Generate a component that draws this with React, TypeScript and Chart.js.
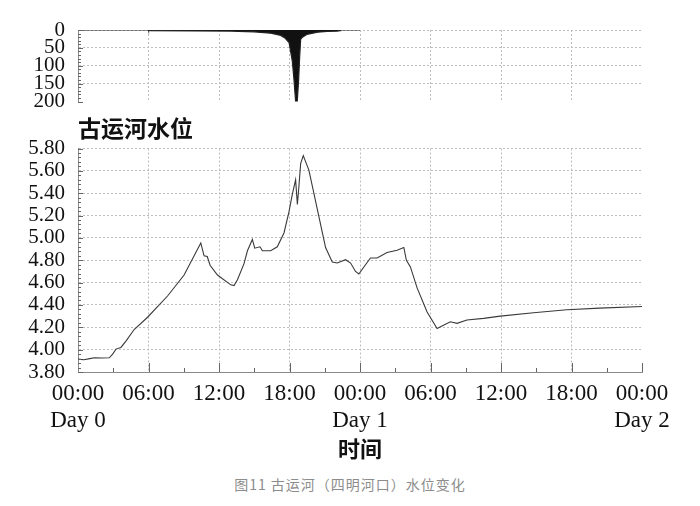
import React, { useEffect, useRef } from 'react';
import { Chart, registerables } from 'chart.js';

Chart.register(...registerables);

// ---- tick definitions ----
const hourTicks = [0, 6, 12, 18, 24, 30, 36, 42, 48];
const hourTickLabels: (string | string[])[] = [
  ['00:00', 'Day 0'], '06:00', '12:00', '18:00', ['00:00', 'Day 1'],
  '06:00', '12:00', '18:00', ['00:00', 'Day 2'],
];
const rainTicks = [0, 50, 100, 150, 200];
const rainTickLabels = ['0', '50', '100', '150', '200'];
const levelTicks = [3.8, 4.0, 4.2, 4.4, 4.6, 4.8, 5.0, 5.2, 5.4, 5.6, 5.8];
const levelTickLabels = ['3.80', '4.00', '4.20', '4.40', '4.60', '4.80', '5.00', '5.20', '5.40', '5.60', '5.80'];

// ---- rainfall (hours from Day 0 00:00, mm) ----
const rainHours = [0, 5.98, 6.0, 10.0, 13.0, 15.0, 16.4, 17.25, 17.6, 17.96, 18.24, 18.38, 18.52, 18.66, 18.78, 18.86, 18.95, 19.1, 19.5, 20.4, 21.2, 22.06, 22.3, 22.35, 24.0];
const rainValues = [0, 0, 2, 2.5, 3, 5, 9, 15, 22, 35, 87, 138, 200, 200, 138, 78, 26, 20, 12, 6, 4, 3, 2, 0, 0];

// ---- water level (hours, m) ----
const levelHours = [
  0, 0.5, 1.0, 1.4, 2.0, 2.66, 2.95, 3.23, 3.65, 4.08, 4.78, 5.92, 7.62, 9.03, 10.45,
  10.73, 11.0, 11.24, 11.87, 13.0, 13.28, 13.57, 14.13, 14.42, 14.84, 15.04, 15.49, 15.69,
  16.4, 16.96, 17.53, 17.95, 18.24, 18.52, 18.67, 18.8, 18.95, 19.17, 19.65, 20.36, 21.07,
  21.64, 22.06, 22.77, 23.2, 23.62, 23.9, 24.33, 24.89, 25.46, 26.3, 27.16, 27.73, 27.95,
  28.29, 28.86, 29.71, 30.56, 31.27, 31.69, 32.26, 33.1, 34.52, 35.94, 38.77, 41.6, 44.4, 48,
];
const levelValues = [
  3.915, 3.91, 3.92, 3.927, 3.925, 3.927, 3.96, 4.005, 4.02, 4.077, 4.18, 4.29, 4.48, 4.668, 4.955,
  4.84, 4.833, 4.755, 4.668, 4.58, 4.573, 4.625, 4.77, 4.885, 4.986, 4.908, 4.92, 4.885,
  4.885, 4.92, 5.044, 5.23, 5.39, 5.52, 5.30, 5.46, 5.664, 5.736, 5.607, 5.26, 4.914,
  4.785, 4.776, 4.805, 4.775, 4.70, 4.677, 4.74, 4.82, 4.82, 4.87, 4.89, 4.914, 4.80,
  4.74, 4.553, 4.337, 4.19, 4.227, 4.25, 4.235, 4.265, 4.28, 4.30, 4.33, 4.357, 4.372, 4.386,
];

const SERIF = "'Liberation Serif', 'Times New Roman', serif";
const CJK = "'Noto Sans CJK SC', sans-serif";
const GRID = '#bdbdbd';
const AXIS = '#8a8a8a';

const innerTicks = {
  id: 'innerTicks',
  afterDraw(chart: any, _args: any, opts: any) {
    const { ctx, chartArea: a, scales } = chart;
    ctx.save();
    ctx.strokeStyle = opts.color || '#666';
    ctx.lineWidth = 1;
    ctx.beginPath();
    const ys = scales.y;
    const n = Math.round((opts.yMax - opts.yMin) / opts.yStep);
    for (let i = 0; i <= n; i++) {
      const v = opts.yMin + i * opts.yStep;
      const py = Math.round(ys.getPixelForValue(v)) + 0.5;
      const len = i % opts.yMajorEvery === 0 ? 5 : 3;
      ctx.moveTo(a.left, py);
      ctx.lineTo(a.left + len, py);
    }
    if (opts.xStep) {
      const xs = scales.x;
      const m = Math.round(48 / opts.xStep);
      for (let i = 1; i <= m; i++) {
        const px = Math.round(xs.getPixelForValue(i * opts.xStep)) + 0.5;
        const len = i % 2 === 0 ? 9 : 4;
        ctx.moveTo(px, a.bottom);
        ctx.lineTo(px, a.bottom - len);
      }
    }
    ctx.stroke();
    ctx.restore();
  },
};

export default function App() {
  const rainRef = useRef<HTMLCanvasElement>(null);
  const levelRef = useRef<HTMLCanvasElement>(null);

  useEffect(() => {
    const rainChart = new Chart(rainRef.current as HTMLCanvasElement, {
      type: 'line',
      data: {
        datasets: [
          {
            data: rainHours.map((h, i) => ({ x: h, y: rainValues[i] })),
            borderColor: '#222',
            borderWidth: 1.2,
            backgroundColor: '#111',
            fill: 'origin',
            pointRadius: 0,
            tension: 0,
          },
        ],
      },
      options: {
        responsive: false,
        animation: false,
        devicePixelRatio: 1,
        layout: { padding: { left: 0, right: 58, top: 30, bottom: 0 } },
        plugins: {
          legend: { display: false },
          tooltip: { enabled: false },
          innerTicks: { yMin: 0, yMax: 200, yStep: 10, yMajorEvery: 5, color: '#666' },
        } as any,
        scales: {
          x: {
            type: 'linear',
            min: 0,
            max: 48,
            afterBuildTicks: (s: any) => { s.ticks = hourTicks.map((v) => ({ value: v })); },
            ticks: { display: false },
            grid: {
              color: (c: any) => (c.tick && c.tick.value > 0 && c.tick.value < 48 ? GRID : 'transparent'),
              drawTicks: false,
            },
            border: { display: false, dash: [2, 2] },
            afterFit: (s: any) => { s.height = 18; },
          },
          y: {
            reverse: true,
            min: 0,
            max: 200,
            afterBuildTicks: (s: any) => { s.ticks = rainTicks.map((v) => ({ value: v })); },
            ticks: {
              callback: (_v: any, i: number) => rainTickLabels[i],
              font: { family: SERIF, size: 21, lineHeight: 1 },
              color: '#111',
              padding: 13,
              autoSkip: false,
            },
            grid: {
              color: (c: any) => (c.tick && c.tick.value < 200 ? GRID : 'transparent'),
              drawTicks: false,
            },
            border: { display: true, color: AXIS, width: 1, dash: [2, 2] },
            afterFit: (s: any) => { s.width = 78; },
          },
        },
      },
      plugins: [innerTicks],
    });

    const levelChart = new Chart(levelRef.current as HTMLCanvasElement, {
      type: 'line',
      data: {
        datasets: [
          {
            data: levelHours.map((h, i) => ({ x: h, y: levelValues[i] })),
            borderColor: '#3a3a3a',
            borderWidth: 1.1,
            pointRadius: 0,
            fill: false,
            tension: 0,
          },
        ],
      },
      options: {
        responsive: false,
        animation: false,
        devicePixelRatio: 1,
        layout: { padding: { left: 0, right: 58, top: 16, bottom: 0 } },
        plugins: {
          legend: { display: false },
          tooltip: { enabled: false },
          innerTicks: { yMin: 3.8, yMax: 5.8, yStep: 0.04, yMajorEvery: 5, xStep: 3, color: '#666' },
        } as any,
        scales: {
          x: {
            type: 'linear',
            min: 0,
            max: 48,
            afterBuildTicks: (s: any) => { s.ticks = hourTicks.map((v) => ({ value: v })); },
            ticks: {
              callback: (_v: any, i: number) => hourTickLabels[i],
              font: { family: SERIF, size: 23, lineHeight: 27 / 23 },
              color: '#111',
              padding: 8,
              maxRotation: 0,
              autoSkip: false,
            },
            grid: {
              color: (c: any) => (c.tick && c.tick.value > 0 && c.tick.value < 48 ? GRID : 'transparent'),
              drawTicks: false,
            },
            border: { display: true, color: AXIS, width: 1, dash: [2, 2] },
            title: {
              display: true,
              text: '时间',
              font: { family: CJK, size: 22, weight: 'bold' },
              color: '#111',
              padding: { top: 0, bottom: 8 },
            },
            afterFit: (s: any) => { s.height = 98; },
          },
          y: {
            min: 3.8,
            max: 5.8,
            afterBuildTicks: (s: any) => { s.ticks = levelTicks.map((v) => ({ value: v })); },
            ticks: {
              callback: (_v: any, i: number) => levelTickLabels[i],
              font: { family: SERIF, size: 21, lineHeight: 1 },
              color: '#111',
              padding: 13,
              autoSkip: false,
            },
            grid: {
              color: (c: any) => (c.tick && c.tick.value > 3.81 ? GRID : 'transparent'),
              drawTicks: false,
            },
            border: { display: true, color: AXIS, width: 1, dash: [2, 2] },
            afterFit: (s: any) => { s.width = 78; },
          },
        },
      },
      plugins: [innerTicks],
    });

    return () => {
      rainChart.destroy();
      levelChart.destroy();
    };
  }, []);

  return (
    <div style={{ position: 'absolute', left: 0, top: 0, width: 700, height: 506, background: '#fff', overflow: 'hidden' }}>
      <div style={{ position: 'absolute', left: 0, top: 0, width: 700, height: 125 }}>
        <canvas ref={rainRef} width={700} height={125} style={{ display: 'block' }} />
      </div>
      <div style={{ position: 'absolute', left: 0, top: 125, width: 700, height: 345 }}>
        <canvas ref={levelRef} width={700} height={345} style={{ display: 'block' }} />
      </div>
      <div
        style={{
          position: 'absolute', left: 78, top: 115, fontFamily: CJK, fontWeight: 'bold',
          fontSize: 23, lineHeight: '24px', color: '#111', whiteSpace: 'nowrap',
        }}
      >
        古运河水位
      </div>
      <div
        style={{
          position: 'absolute', left: 0, top: 475, width: 700, textAlign: 'center', fontFamily: CJK,
          fontSize: 14, lineHeight: '18px', color: '#8c8c8c', letterSpacing: 1, whiteSpace: 'nowrap',
        }}
      >
        图11 古运河（四明河口）水位变化
      </div>
    </div>
  );
}
